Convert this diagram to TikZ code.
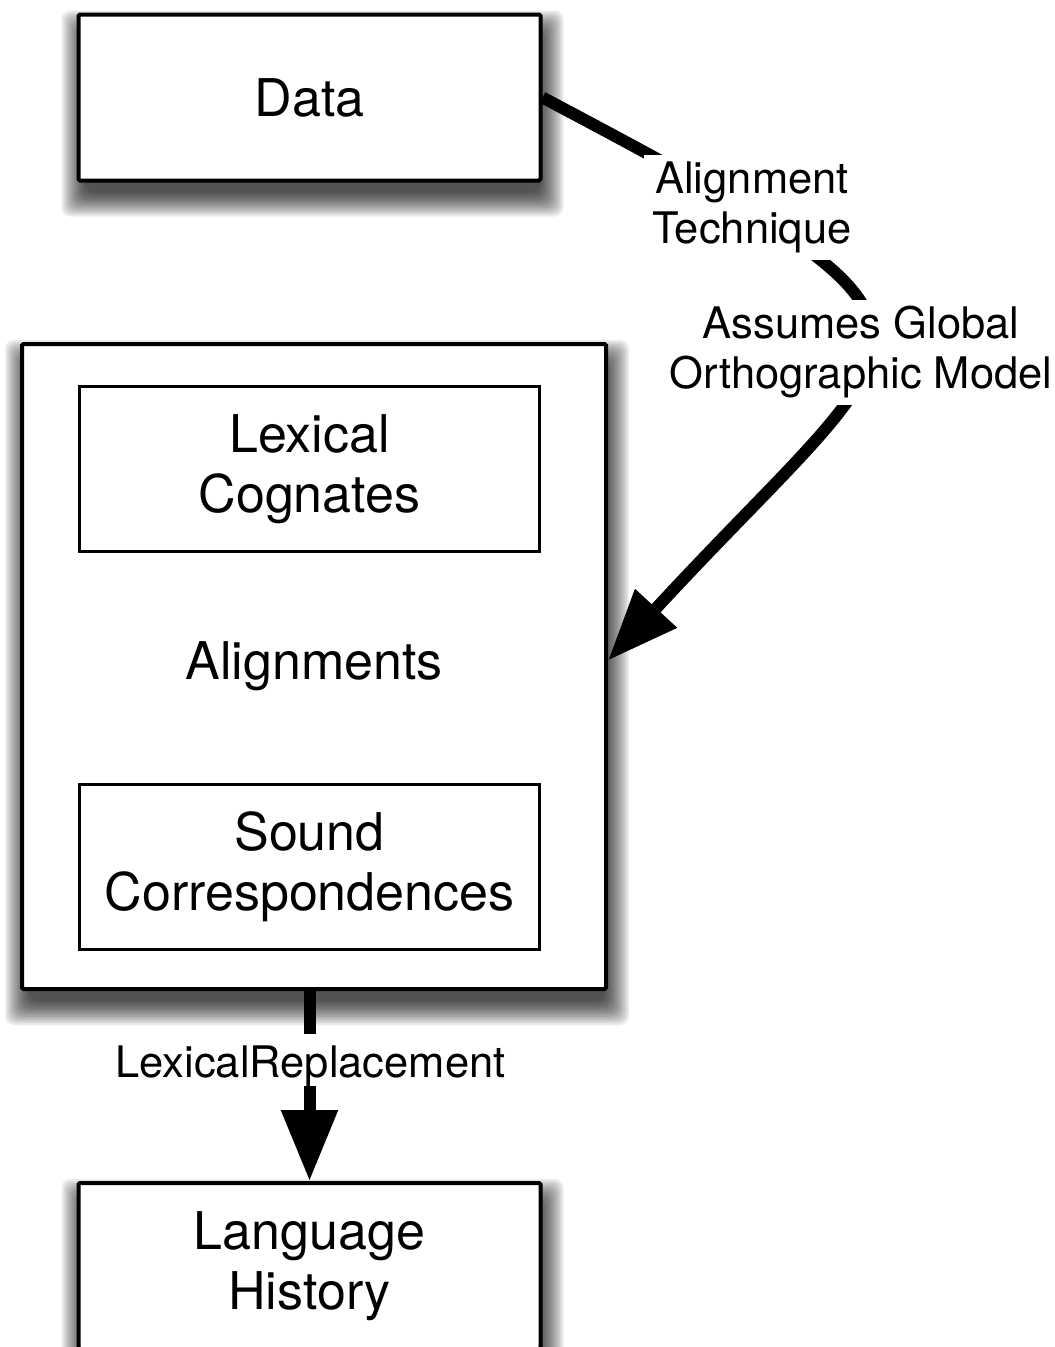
\documentclass[tikz,border=0pt]{standalone}
\usepackage{fontspec}
\setmainfont{TeX Gyre Heros}
\usetikzlibrary{arrows.meta}
\pgfdeclarelayer{paper}
\pgfdeclarelayer{shade}
\pgfsetlayers{paper,shade,main}
% soft drop shadow under a node: stacked translucent rounded rectangles
\newcommand\dropshadow[1]{%
  \foreach \e in {18,16,...,-6}{%
    \fill[black, fill opacity=0.08, rounded corners=9pt]
      ([shift={({3-(\e)},{16-(\e)})}]#1.north west) rectangle
      ([shift={({3+(\e)},{16+(\e)})}]#1.south east);
  }}
\begin{document}
\begin{tikzpicture}[x=1pt,y=-1pt,
  boxfont/.style={font=\fontsize{52}{60}\selectfont},
  outerbox/.style={draw, line width=4pt, fill=white, rounded corners=1.5pt,
    align=center, inner sep=0pt, boxfont},
  innerbox/.style={draw, line width=3pt, fill=white, align=center,
    inner sep=0pt, boxfont, minimum width=460pt, minimum height=165pt},
  flow/.style={line width=12pt, -{Triangle[length=71pt,width=54pt]}},
  lbl/.style={fill=white, align=center, font=\fontsize{43.5}{50}\selectfont,
    inner xsep=8pt, inner ysep=0pt}
]
\useasboundingbox (0,0) rectangle (1055,1347);
\clip (0,0) rectangle (1055,1347);
\begin{pgfonlayer}{paper}
  \fill[white] (0,0) rectangle (1055,1347);
\end{pgfonlayer}

% main boxes
\node[outerbox, minimum width=462pt, minimum height=166pt] (data) at (309.5,97.5) {Data};
\node[outerbox, minimum width=584pt, minimum height=645pt] (align) at (314,666.5) {Alignments};
\node[outerbox, minimum width=462pt, minimum height=166pt] (lang) at (309.5,1266) {Language\\History};

\begin{pgfonlayer}{shade}
  \dropshadow{data}
  \dropshadow{align}
  \dropshadow{lang}
\end{pgfonlayer}

% boxes nested in the alignments box
\node[innerbox] (cog) at (309.5,469) {Lexical\\Cognates};
\node[innerbox] (snd) at (309.5,867) {Sound\\Correspondences};

% connectors
\draw[flow] (data.east) .. controls +(459,243) and +(318,-345) .. ([yshift=6pt]align.east);
\draw[flow] (lang.north |- align.south) -- (lang.north);

% connector labels
\node[lbl, minimum height=105pt] (tech) at (752,207) {Alignment\\Technique};
\node[lbl, minimum height=105pt] (model) at (861,352) {Assumes Global\\Orthographic Model};
\node[lbl, minimum width=531pt, text height=43pt, text depth=9pt, anchor=base] (repl) at (310.5,1077) {LexicalReplacement};
\end{tikzpicture}
\end{document}
